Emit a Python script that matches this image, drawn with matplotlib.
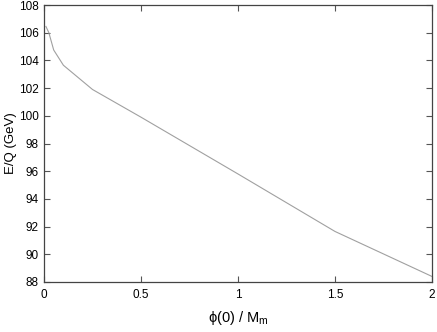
import matplotlib
matplotlib.use("Agg")
import matplotlib.pyplot as plt

x_vals = [0.01, 0.025, 0.05, 0.1, 0.25, 0.5, 1.0, 1.5, 2.0]
eq_vals = [106.45, 106.0, 104.75, 103.65, 101.9, 99.9, 95.8, 91.65, 88.4]
x_ticks = [0, 0.5, 1, 1.5, 2]
x_ticklabels = ["0", "0.5", "1", "1.5", "2"]
y_ticks = list(range(88, 109, 2))

plt.rcParams['font.family'] = ['Liberation Sans', 'DejaVu Sans']
plt.rcParams['mathtext.fontset'] = 'custom'
plt.rcParams['mathtext.rm'] = 'Liberation Sans'
plt.rcParams['mathtext.it'] = 'Liberation Sans'

fig = plt.figure(figsize=(4.37, 3.32), dpi=100)
ax = fig.add_axes([44/437, 1-282/332, 388/437, 277/332])
ax.plot(x_vals, eq_vals, color='#a0a0a0', lw=0.8)
ax.set_xlim(0, 2)
ax.set_ylim(88, 108)
ax.set_xticks(x_ticks)
ax.set_xticklabels(x_ticklabels)
ax.set_yticks(y_ticks)
ax.tick_params(direction='in', length=4, width=0.8, color='#555555',
               top=True, right=True, labelsize=8.5, pad=4)
ax.tick_params(axis='x', pad=5)
for s in ax.spines.values():
    s.set_color('#444444')
    s.set_linewidth(0.9)
ax.set_xlabel(r'$\mathrm{\phi(0)\ /\ M_m}$', fontsize=10.5, labelpad=6)
ax.set_ylabel('E/Q (GeV)', fontsize=9.5)
ax.yaxis.set_label_coords(-0.07, 0.5)
fig.savefig('out.png', dpi=100)
